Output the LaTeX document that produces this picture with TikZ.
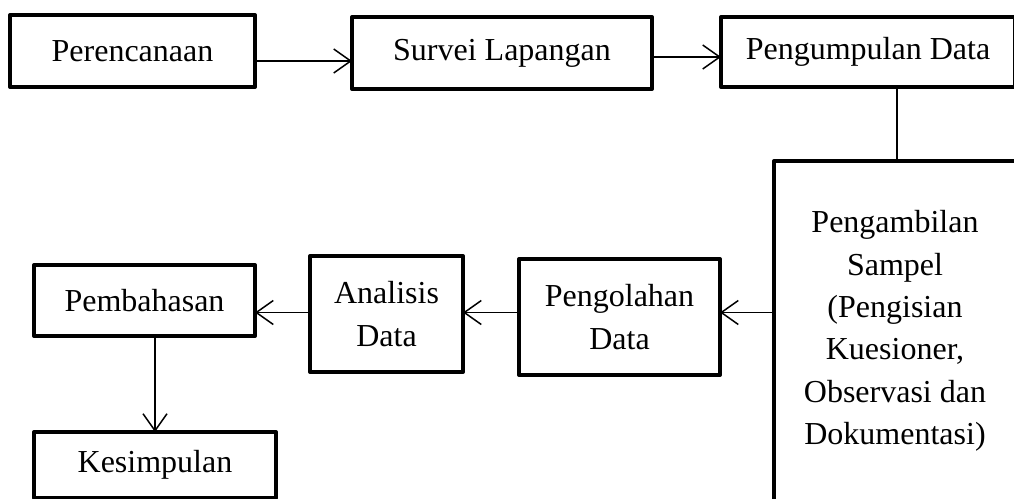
\documentclass[tikz,border=0pt]{standalone}
\usepackage{fontspec}
\setmainfont{Liberation Serif}
\usetikzlibrary{arrows.meta}
\tikzset{
  box/.style={draw, line width=4pt, line join=round, inner sep=0pt, outer sep=0pt, align=center,
    font=\fontsize{32}{42.4}\selectfont},
  conn/.style={line width=1.5pt},
  arr/.style={conn, -{Straight Barb[length=17pt, width=24pt, line width=1.5pt]}},
}
\begin{document}
\begin{tikzpicture}[x=1pt, y=-1pt]
\useasboundingbox (0,0) rectangle (1014,498);
\clip (0,0) rectangle (1014,498);
\node[box, minimum width=245pt, minimum height=72pt] (p1) at (132.5,51) {Perencanaan};
\node[box, minimum width=300pt, minimum height=72pt] (s1) at (502,53) {Survei Lapangan};
\node[box, minimum width=294pt, minimum height=70pt] (g1) at (868,52) {Pengumpulan Data};
\node[box, minimum width=242pt, minimum height=340pt] (b1) at (895,331) {Pengambilan\\Sampel\\(Pengisian\\Kuesioner,\\Observasi dan\\Dokumentasi)};
\node[box, minimum width=201pt, minimum height=116pt] (o1) at (619.5,317) {Pengolahan\\Data};
\node[box, minimum width=153pt, minimum height=116pt] (a1) at (386.5,314) {Analisis\\Data};
\node[box, minimum width=221pt, minimum height=71pt] (h1) at (144.5,300.5) {Pembahasan};
\node[box, minimum width=242pt, minimum height=66pt] (k1) at (155,465) {Kesimpulan};
\coordinate (ya) at (0,61);
\coordinate (yb) at (0,57);
\coordinate (yc) at (0,312.5);
\coordinate (xv) at (897,0);
\draw[arr] (p1.east |- ya) -- (s1.west |- ya);
\draw[arr] (s1.east |- yb) -- (g1.west |- yb);
\draw[conn] (xv |- g1.south) -- (xv |- b1.north);
\draw[arr] (b1.west |- yc) -- (o1.east |- yc);
\draw[arr] (o1.west |- yc) -- (a1.east |- yc);
\draw[arr] (a1.west |- yc) -- (h1.east |- yc);
\draw[arr] (k1.north |- h1.south) -- (k1.north);
\end{tikzpicture}
\end{document}
